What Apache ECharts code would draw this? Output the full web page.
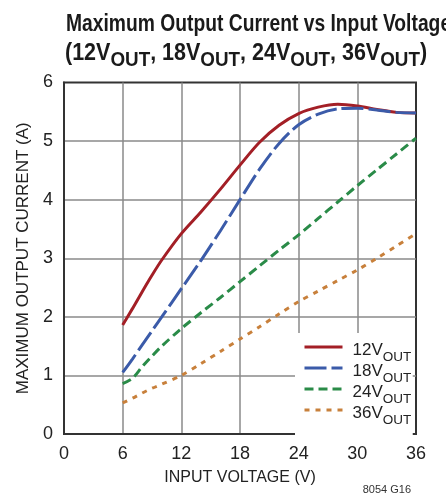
<!DOCTYPE html>
<html>
<head>
<meta charset="utf-8">
<script src="https://cdn.jsdelivr.net/npm/echarts@6/dist/echarts.min.js"></script>
<style>
html,body{margin:0;padding:0;background:#fff;}
#c{width:446px;height:502px;}
</style>
</head>
<body>
<div id="c"></div>
<script>
const FONT = "'Liberation Sans', Arial, sans-serif";

const vin = [6, 7, 8, 9, 10, 12, 14, 16, 18, 20, 22, 24, 26, 28, 30, 32, 34, 36];
const i12 = [1.86, 2.14, 2.43, 2.71, 2.97, 3.42, 3.79, 4.18, 4.59, 4.98, 5.27, 5.47, 5.58, 5.63, 5.60, 5.54, 5.49, 5.48];
const i18 = [1.05, 1.28, 1.52, 1.76, 2.00, 2.48, 2.96, 3.47, 4.00, 4.52, 4.96, 5.28, 5.46, 5.55, 5.56, 5.53, 5.49, 5.48];
const i24 = [0.86, 0.95, 1.15, 1.33, 1.50, 1.80, 2.07, 2.33, 2.60, 2.87, 3.14, 3.40, 3.68, 3.96, 4.24, 4.51, 4.78, 5.05];
const i36 = [0.53, 0.61, 0.70, 0.78, 0.85, 1.00, 1.20, 1.41, 1.62, 1.83, 2.05, 2.26, 2.44, 2.62, 2.80, 3.00, 3.21, 3.42];

const seriesNames = ['12V', '18V', '24V', '36V'];
const seriesData = [i12, i18, i24, i36];
const colors = ['#a31f26', '#3b5ba9', '#2a8b48', '#c8803b'];
const dashes = ['solid', [22, 5], [9, 5], [5, 6]];

const xTicks = [0, 6, 12, 18, 24, 30, 36];
const yTicks = [0, 1, 2, 3, 4, 5, 6];

const titleLine1 = 'Maximum Output Current vs Input Voltage';
const titleLine2 = '{a|(12V}{s|OUT}{a|, 18V}{s|OUT}{a|, 24V}{s|OUT}{a|, 36V}{s|OUT}{a|)}';
const figNote = '8054 G16';

const chart = echarts.init(document.getElementById('c'), null, {renderer: 'canvas'});

const series = seriesNames.map((n, k) => ({
  name: n,
  type: 'line',
  smooth: 0.3,
  symbol: 'none',
  data: vin.map((v, j) => [v, seriesData[k][j]]),
  lineStyle: {color: colors[k], width: 3, type: dashes[k], cap: 'butt'},
  itemStyle: {color: colors[k]},
  z: 3
}));

const titleRichA = {fontFamily: FONT, fontSize: 24, fontWeight: 'bold', fill: '#1a1a1a', lineHeight: 24, verticalAlign: 'top'};

chart.setOption({
  animation: false,
  backgroundColor: '#fff',
  textStyle: {fontFamily: FONT},
  title: [{
    right: 30,
    bottom: 2,
    text: figNote,
    textStyle: {fontFamily: FONT, fontSize: 11, fontWeight: 'normal', color: '#333'}
  }],
  graphic: [{
    type: 'text',
    x: 66,
    y: 12,
    scaleX: 0.803,
    style: {
      text: '{a|' + titleLine1 + '}',
      verticalAlign: 'top',
      align: 'left',
      rich: {a: titleRichA}
    }
  }, {
    type: 'text',
    x: 65,
    y: 41,
    scaleX: 0.896,
    style: {
      text: titleLine2,
      verticalAlign: 'top',
      align: 'left',
      rich: {
        a: titleRichA,
        s: {fontFamily: FONT, fontSize: 21, fontWeight: 'bold', fill: '#1a1a1a', lineHeight: 21, padding: [8.4, 0, 0, 0], verticalAlign: 'top'}
      }
    }
  }],
  legend: {
    left: 295,
    top: 333,
    orient: 'vertical',
    padding: [5.5, 1.5, 10, 8],
    itemGap: -5,
    itemWidth: 38,
    itemHeight: 14,
    backgroundColor: '#fff',
    data: seriesNames,
    itemStyle: {color: 'rgba(0,0,0,0)', borderWidth: 0},
    lineStyle: {width: 3},
    formatter: n => '{b|' + n + '}{s|OUT}',
    textStyle: {
      rich: {
        b: {fontFamily: FONT, fontSize: 17, color: '#222', lineHeight: 17, padding: [3, 0, 0, 5], verticalAlign: 'top'},
        s: {fontFamily: FONT, fontSize: 13.5, color: '#222', lineHeight: 9, padding: [12, 0, 0, 0], verticalAlign: 'top'}
      }
    }
  },
  grid: {left: 64, right: 30, top: 82.5, bottom: 68, show: true, borderColor: '#333', borderWidth: 2, backgroundColor: 'transparent'},
  xAxis: {
    type: 'value',
    min: 0, max: 36, interval: 6,
    name: 'INPUT VOLTAGE (V)',
    nameLocation: 'middle',
    nameGap: 36,
    nameTextStyle: {fontFamily: FONT, fontSize: 16, color: '#222'},
    axisLine: {show: true, lineStyle: {color: '#333', width: 2}},
    axisTick: {show: false},
    axisLabel: {fontFamily: FONT, fontSize: 18, color: '#222', margin: 11,
      formatter: v => xTicks.indexOf(v) >= 0 ? String(v) : ''},
    splitLine: {show: true, showMinLine: false, showMaxLine: false, lineStyle: {color: '#8a8a8a', width: 1.5}}
  },
  yAxis: {
    type: 'value',
    min: 0, max: 6, interval: 1,
    name: 'MAXIMUM OUTPUT CURRENT (A)',
    nameLocation: 'middle',
    nameRotate: 90,
    nameGap: 25,
    nameTextStyle: {fontFamily: FONT, fontSize: 17, color: '#222'},
    axisLine: {show: true, lineStyle: {color: '#333', width: 2}},
    axisTick: {show: false},
    axisLabel: {fontFamily: FONT, fontSize: 18, color: '#222', margin: 11,
      formatter: v => yTicks.indexOf(v) >= 0 ? String(v) : ''},
    splitLine: {show: true, showMinLine: false, showMaxLine: false, lineStyle: {color: '#8a8a8a', width: 1.5}}
  },
  series: series
});
</script>
</body>
</html>
